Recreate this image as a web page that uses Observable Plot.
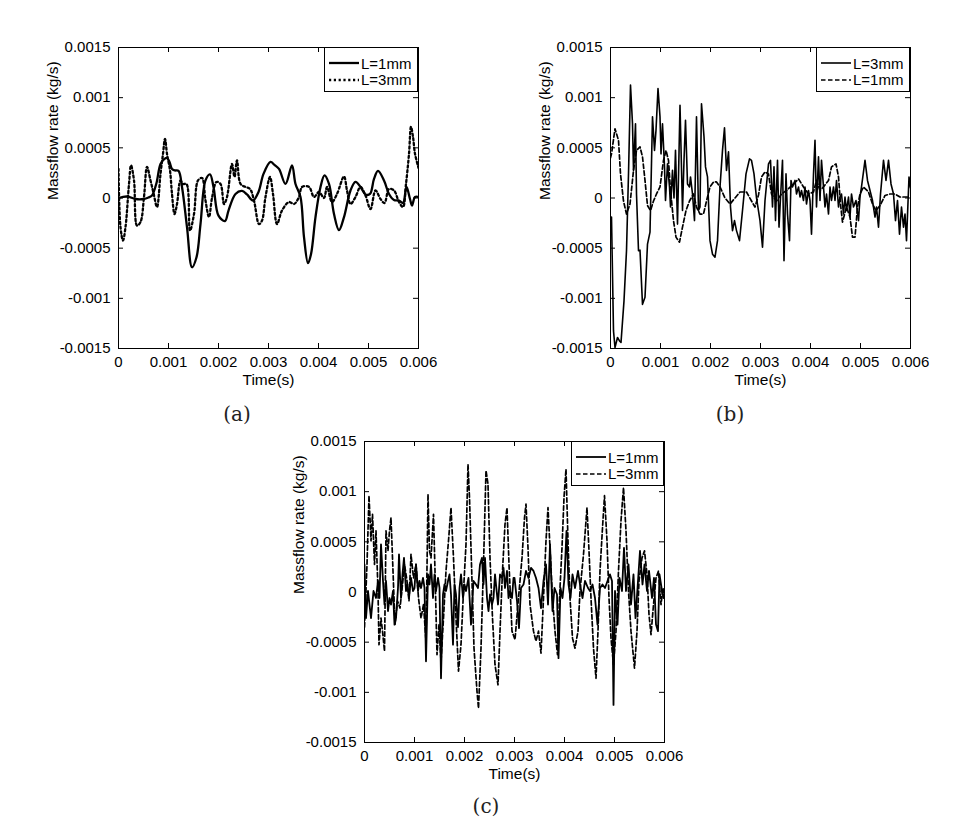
<!DOCTYPE html>
<html><head><meta charset="utf-8">
<script src="https://cdn.jsdelivr.net/npm/d3@7"></script>
<script src="https://cdn.jsdelivr.net/npm/@observablehq/plot@0.6"></script>
<style>
body{margin:0;background:#fff;}
#wrap{position:relative;width:959px;height:818px;overflow:hidden;font-family:"Liberation Sans",Arial,sans-serif;background:#fff;}
.panel{position:absolute;width:440px;height:400px;}
.legend{position:absolute;background:#fff;border:1px solid #000;box-sizing:border-box;font-size:15px;color:#000;height:45px;}
.row{position:absolute;left:0;height:16px;display:flex;align-items:center;white-space:nowrap;}
.cap{position:absolute;font-family:"DejaVu Serif",serif;font-size:20px;color:#222;transform:translate(-50%,-50%);}
</style></head>
<body><div id="wrap"></div>
<script>
// ---- axis ticks and labels ----
const xTicks = [0, 0.001, 0.002, 0.003, 0.004, 0.005, 0.006];
const xTickLabels = ["0", "0.001", "0.002", "0.003", "0.004", "0.005", "0.006"];
const yTicks = [-0.0015, -0.001, -0.0005, 0, 0.0005, 0.001, 0.0015];
const yTickLabels = ["-0.0015", "-0.001", "-0.0005", "0", "0.0005", "0.001", "0.0015"];
const xLabel = "Time(s)";
const yLabel = "Massflow rate (kg/s)";
const captions = ["(a)", "(b)", "(c)"];

// ---- data: [time (ms), massflow (1e-4 kg/s)] ----
const a_L1mm = [[0,0],[0.17,0.15],[0.34,-0.1],[0.5,-0.1],[0.6,0.05],[0.67,0.25],[0.76,1.5],[0.84,3.4],[0.92,3.9],[0.97,4.0],[1.02,3.6],[1.07,2.9],[1.13,2.75],[1.2,2.7],[1.27,1.1],[1.37,-2.9],[1.47,-6.9],[1.56,-5.9],[1.64,-2.6],[1.74,1.75],[1.83,2.35],[1.9,1.1],[2.0,-1.75],[2.13,-2.3],[2.2,-1.25],[2.34,0.4],[2.47,0.7],[2.57,0.35],[2.69,-0.25],[2.8,0.6],[2.9,2.4],[3.04,3.6],[3.12,3.3],[3.21,2.9],[3.34,1.4],[3.47,3.25],[3.54,1.4],[3.64,0.1],[3.71,-3.9],[3.79,-6.5],[3.85,-5.6],[3.94,-1.9],[4.04,1.1],[4.12,2.25],[4.21,1.4],[4.31,-1.6],[4.41,-3.2],[4.51,-1.9],[4.64,0.75],[4.74,1.6],[4.84,1.1],[4.94,0.35],[5.03,0.4],[5.11,1.9],[5.19,2.7],[5.31,1.75],[5.41,0.4],[5.51,-0.2],[5.61,-0.25],[5.69,-0.5],[5.76,1.1],[5.83,-0.1],[5.87,-0.75],[5.93,0.1],[6.0,0.1]];
const a_L3mm = [[0,2.9],[0.04,-2.9],[0.09,-4.25],[0.14,-2.9],[0.21,1.4],[0.25,3.25],[0.31,1.75],[0.37,-2.75],[0.44,-2.4],[0.51,0.1],[0.57,3.1],[0.64,1.75],[0.7,0.5],[0.77,-0.9],[0.84,2.4],[0.89,4.4],[0.93,5.9],[0.97,4.4],[1.03,2.75],[1.07,0.4],[1.12,-1.6],[1.17,-0.6],[1.24,1.75],[1.29,1.4],[1.36,1.4],[1.43,-3.25],[1.51,-1.6],[1.59,1.75],[1.67,2.0],[1.74,-0.25],[1.81,-1.9],[1.87,0],[1.96,1.6],[2.04,1.4],[2.11,-0.6],[2.17,0.1],[2.27,3.4],[2.32,2.1],[2.37,3.75],[2.44,1.4],[2.54,1.1],[2.63,0.9],[2.71,-0.25],[2.81,-2.6],[2.87,-2.25],[2.94,0.1],[3.03,2.1],[3.09,0.4],[3.17,-2.6],[3.27,-1.25],[3.41,-0.4],[3.51,-0.6],[3.61,0.1],[3.67,1.1],[3.81,1.1],[3.91,0.1],[4.01,0.6],[4.11,0],[4.17,1.1],[4.27,-0.4],[4.37,0.4],[4.51,2.15],[4.57,0.75],[4.64,-0.6],[4.74,0.1],[4.84,1.1],[4.94,0.25],[5.04,-1.1],[5.14,0.75],[5.24,-0.1],[5.32,-0.5],[5.41,0.9],[5.51,0.75],[5.61,-0.4],[5.69,-0.9],[5.75,1.4],[5.81,4.4],[5.85,7.1],[5.89,6.1],[5.93,4.4],[6.0,3.0]];
const b_L3mm = [[0.02,-1.9],[0.06,-13.25],[0.09,-14.9],[0.14,-13.9],[0.18,-14.25],[0.21,-14.4],[0.27,-10.25],[0.32,-5.25],[0.36,2.4],[0.40,11.25],[0.44,7.4],[0.46,2.75],[0.48,5.1],[0.50,7.4],[0.52,0.4],[0.56,-5.25],[0.59,-5.2],[0.64,-10.6],[0.69,-9.9],[0.74,-4.6],[0.79,-3.4],[0.84,8.1],[0.88,4.75],[0.91,6.75],[0.95,10.9],[0.99,8.1],[1.01,4.4],[1.04,7.4],[1.08,3.1],[1.10,-0.25],[1.14,3.4],[1.18,1.1],[1.20,-0.9],[1.24,2.75],[1.27,0],[1.30,4.75],[1.34,-2.6],[1.39,9.25],[1.44,-1.25],[1.47,3.75],[1.50,7.75],[1.54,1.4],[1.58,1.1],[1.60,2.1],[1.64,0.4],[1.68,-2.25],[1.72,8.1],[1.76,-1.25],[1.79,-0.9],[1.82,9.4],[1.87,6.1],[1.90,3.1],[1.94,2.1],[1.99,-4.25],[2.04,-5.6],[2.09,-5.9],[2.14,-4.25],[2.19,1.1],[2.24,4.75],[2.28,7.0],[2.32,2.75],[2.36,4.6],[2.40,-0.9],[2.44,-3.25],[2.48,-2.25],[2.52,-3.25],[2.58,-4.25],[2.64,-1.25],[2.71,2.4],[2.78,3.9],[2.82,3.75],[2.87,2.4],[2.92,0],[2.99,-2.25],[3.04,-4.9],[3.09,-0.25],[3.16,3.4],[3.20,3.75],[3.24,-0.9],[3.27,3.1],[3.30,-2.25],[3.34,3.75],[3.37,-2.9],[3.40,0],[3.44,3.75],[3.47,-6.25],[3.51,2.4],[3.54,-1.6],[3.58,-4.25],[3.61,1.75],[3.64,1.1],[3.69,1.75],[3.72,0.4],[3.76,1.1],[3.79,0.1],[3.82,0.75],[3.86,-0.25],[3.89,1.1],[3.92,-0.6],[3.96,0.75],[3.99,-0.25],[4.02,-3.6],[4.06,2.4],[4.09,5.75],[4.12,-0.9],[4.16,4.1],[4.19,-0.25],[4.22,3.75],[4.26,1.1],[4.29,-0.9],[4.32,0.4],[4.36,-1.6],[4.39,1.1],[4.42,-0.25],[4.46,1.1],[4.49,-0.25],[4.52,1.75],[4.56,-0.9],[4.59,0.1],[4.62,0.4],[4.66,-1.6],[4.69,0.1],[4.72,-1.25],[4.76,0.1],[4.79,-1.9],[4.82,0.4],[4.86,-0.9],[4.91,-0.25],[4.96,-2.25],[4.99,0.1],[5.02,1.1],[5.09,3.75],[5.14,1.75],[5.19,0.75],[5.24,-0.25],[5.29,-1.9],[5.32,-0.9],[5.36,-2.9],[5.40,0.4],[5.46,3.75],[5.51,1.75],[5.56,3.75],[5.61,1.4],[5.66,0.4],[5.70,-2.25],[5.74,-0.25],[5.78,-3.6],[5.82,-0.9],[5.86,-2.9],[5.89,-1.6],[5.92,-4.25],[5.97,2.1],[6.0,1.0]];
const b_L1mm = [[0.0,4.0],[0.02,4.4],[0.09,6.9],[0.16,5.75],[0.2,2.4],[0.26,-0.3],[0.32,-1.6],[0.39,-0.6],[0.46,2.75],[0.52,4.75],[0.59,5.1],[0.64,4.1],[0.69,1.75],[0.74,-0.75],[0.8,-1.25],[0.86,-0.3],[0.92,0.4],[0.99,1.1],[1.06,3.75],[1.11,4.75],[1.16,3.75],[1.2,0.75],[1.26,-2.25],[1.31,-3.9],[1.38,-4.4],[1.44,-2.9],[1.51,-1.25],[1.58,-0.3],[1.66,0.4],[1.72,-0.9],[1.79,-1.6],[1.86,-1.6],[1.92,-0.3],[1.99,1.1],[2.06,1.6],[2.12,1.6],[2.19,1.1],[2.29,0],[2.39,-0.6],[2.49,0],[2.59,0.6],[2.72,0.6],[2.82,-0.3],[2.89,-0.9],[2.96,0.3],[3.02,2.1],[3.09,2.6],[3.16,2.4],[3.22,0.4],[3.32,-0.3],[3.42,0.4],[3.52,0.75],[3.66,1.4],[3.76,1.9],[3.86,1.1],[3.96,0.4],[4.06,0.6],[4.12,1.75],[4.19,0.75],[4.26,1.1],[4.36,1.75],[4.42,3.1],[4.51,3.4],[4.56,2.1],[4.6,-0.6],[4.64,-2.4],[4.72,-0.9],[4.79,-1.9],[4.84,-3.9],[4.89,-3.9],[4.94,-0.9],[4.99,0.4],[5.06,1.1],[5.16,0.6],[5.24,-0.6],[5.31,-1.25],[5.39,-0.75],[5.49,0.25],[5.59,0.4],[5.69,0.4],[5.79,0.1],[5.89,0.1],[5.98,0.1]];
const c_L1mm = [[0,2.75],[0.03,-2.6],[0.07,0.1],[0.1,-1.25],[0.13,-2.6],[0.18,0.1],[0.23,-0.6],[0.27,1.1],[0.3,-0.6],[0.33,4.75],[0.37,1.1],[0.4,-1.25],[0.43,1.1],[0.47,-1.9],[0.5,-0.6],[0.53,-1.25],[0.57,0.1],[0.6,-3.25],[0.63,-2.6],[0.67,0.4],[0.69,3.75],[0.73,-0.6],[0.76,1.75],[0.79,3.4],[0.83,0.1],[0.86,0.75],[0.89,-0.6],[0.93,1.4],[0.97,0.1],[1.0,0.4],[1.03,2.75],[1.07,0.1],[1.1,1.1],[1.13,0.4],[1.17,1.4],[1.2,0.4],[1.23,-6.9],[1.27,1.75],[1.3,0.75],[1.33,2.75],[1.37,-0.6],[1.4,1.75],[1.43,0.1],[1.47,1.4],[1.5,0.4],[1.53,-8.6],[1.57,-0.25],[1.6,0.75],[1.63,0.1],[1.67,1.1],[1.7,1.75],[1.73,-0.25],[1.77,-5.25],[1.8,0.75],[1.83,-0.25],[1.87,-3.5],[1.9,0.4],[1.93,1.75],[1.97,-0.6],[2.0,0.75],[2.03,0.1],[2.08,1.4],[2.13,-3.25],[2.18,1.1],[2.23,0.75],[2.27,0.4],[2.31,2.75],[2.35,3.4],[2.38,0.75],[2.41,3.4],[2.45,-0.6],[2.48,-1.9],[2.51,-0.25],[2.55,-1.25],[2.58,-0.6],[2.61,1.75],[2.67,-1.25],[2.71,1.75],[2.75,1.4],[2.78,2.4],[2.81,0.4],[2.85,2.1],[2.88,-0.6],[2.91,0.1],[2.95,-0.6],[2.98,1.4],[3.0,1.4],[3.05,-0.9],[3.09,-3.6],[3.13,0.4],[3.18,0.75],[3.23,2.1],[3.28,1.4],[3.33,2.4],[3.38,2.1],[3.43,1.4],[3.48,0.4],[3.53,-1.6],[3.58,1.1],[3.63,2.75],[3.67,-1.25],[3.71,4.75],[3.76,-1.9],[3.8,0.4],[3.85,-0.25],[3.88,-6.6],[3.92,0.4],[3.96,-0.6],[4.0,1.4],[4.04,6.1],[4.08,0.75],[4.12,-0.6],[4.16,1.75],[4.21,0.4],[4.27,2.1],[4.31,0.75],[4.36,-0.6],[4.41,1.1],[4.47,0.4],[4.51,0.1],[4.56,0.75],[4.61,-0.6],[4.66,-3.25],[4.71,0.4],[4.76,0.75],[4.81,0.4],[4.86,1.1],[4.91,1.75],[4.95,1.1],[4.98,-11.25],[5.01,0.1],[5.06,-3.25],[5.1,1.4],[5.15,0.1],[5.19,4.4],[5.23,0.1],[5.28,2.75],[5.33,-1.25],[5.38,1.75],[5.42,-2.6],[5.47,1.1],[5.51,4.1],[5.56,0.75],[5.6,2.75],[5.65,0.1],[5.69,2.1],[5.75,-0.6],[5.79,1.4],[5.83,-3.25],[5.87,-3.9],[5.9,1.75],[5.95,0.1],[5.98,-0.6],[6.0,-0.2]];
const c_L3mm = [[0,-3.5],[0.05,2.75],[0.09,9.6],[0.13,5.1],[0.16,7.75],[0.2,2.75],[0.23,6.1],[0.27,0.1],[0.29,-5.25],[0.33,-2.6],[0.36,-3.9],[0.4,-5.9],[0.43,6.1],[0.47,4.1],[0.5,6.1],[0.53,7.4],[0.57,2.1],[0.61,-3.25],[0.66,-0.9],[0.71,-1.6],[0.76,0.75],[0.8,2.75],[0.85,1.1],[0.89,-0.9],[0.93,3.75],[0.98,1.4],[1.03,2.75],[1.08,-0.6],[1.13,-2.6],[1.18,-1.25],[1.23,-4.9],[1.27,9.75],[1.3,4.1],[1.33,3.4],[1.38,7.75],[1.41,2.1],[1.45,-6.25],[1.49,-3.25],[1.53,-6.9],[1.58,-2.6],[1.63,2.1],[1.68,5.1],[1.73,8.4],[1.78,3.4],[1.83,-2.6],[1.88,-7.9],[1.93,-5.25],[1.98,0.1],[2.03,4.75],[2.07,12.75],[2.1,9.4],[2.15,1.1],[2.19,-5.6],[2.25,-9.9],[2.28,-11.6],[2.33,-5.6],[2.38,2.75],[2.43,12.1],[2.47,10.75],[2.51,3.4],[2.56,-2.6],[2.61,-7.25],[2.67,-9.25],[2.71,-3.9],[2.76,2.1],[2.81,6.75],[2.85,8.4],[2.89,2.75],[2.95,-3.9],[3.01,-4.75],[3.08,-0.6],[3.15,3.4],[3.2,7.4],[3.23,8.75],[3.27,4.4],[3.31,-1.25],[3.38,-3.9],[3.43,-4.9],[3.48,-3.9],[3.53,-6.1],[3.58,-0.6],[3.63,5.1],[3.67,8.4],[3.71,4.4],[3.76,-0.6],[3.81,-3.9],[3.86,-6.25],[3.9,-0.6],[3.95,4.4],[3.99,9.4],[4.03,12.25],[4.07,5.1],[4.11,-0.6],[4.16,-4.6],[4.21,-5.6],[4.27,-3.9],[4.31,0.1],[4.38,3.75],[4.45,8.4],[4.49,4.1],[4.53,-0.6],[4.58,-5.6],[4.63,-8.6],[4.67,-3.9],[4.71,2.1],[4.76,6.4],[4.8,9.6],[4.85,5.1],[4.89,-0.6],[4.93,-4.6],[4.98,-7.25],[5.03,-3.9],[5.08,2.1],[5.13,7.1],[5.18,10.4],[5.23,6.1],[5.28,0.1],[5.33,-3.9],[5.4,-7.6],[5.45,-3.9],[5.49,1.1],[5.55,3.4],[5.6,4.1],[5.65,1.75],[5.69,-2.25],[5.73,-4.25],[5.78,-1.25],[5.83,1.4],[5.88,2.1],[5.93,-1.25],[5.97,0.4],[6.0,-0.2]];

// ---- styles ----
const styles = {
  aSolid: {width: 2.3, dash: null, curve: "catmull-rom"},
  aDot:   {width: 2.3, dash: "2.2,2.6", curve: "catmull-rom"},
  bSolid: {width: 1.6, dash: null, curve: "linear"},
  bDash:  {width: 1.7, dash: "4.5,2.5", curve: "linear"},
  cSolid: {width: 1.8, dash: null, curve: "linear"},
  cDash:  {width: 1.7, dash: "4.5,2.5", curve: "linear"}
};

const panels = [
  {left: 0, top: 0, caption: captions[0], capX: 237, capY: 414,
   series: [{name: "L=1mm", pts: a_L1mm, st: styles.aSolid}, {name: "L=3mm", pts: a_L3mm, st: styles.aDot}],
   legend: {left: 324, top: 47, width: 94}},
  {left: 492, top: 0, caption: captions[1], capX: 730, capY: 414,
   series: [{name: "L=3mm", pts: b_L3mm, st: styles.bSolid}, {name: "L=1mm", pts: b_L1mm, st: styles.bDash}],
   legend: {left: 816, top: 47, width: 94}},
  {left: 246, top: 394, caption: captions[2], capX: 486, capY: 806,
   series: [{name: "L=1mm", pts: c_L1mm, st: styles.cSolid}, {name: "L=3mm", pts: c_L3mm, st: styles.cDash}],
   legend: {left: 571, top: 441, width: 93}}
];

const wrap = document.getElementById("wrap");
const xLab = new Map(xTicks.map((d, i) => [d, xTickLabels[i]]));
const yLab = new Map(yTicks.map((d, i) => [d, yTickLabels[i]]));

const W = 440, H = 400, mL = 118, mT = 47, mR = 22, mB = 52;
const fw = W - mL - mR, fh = H - mT - mB;

for (const p of panels) {
  const marks = [];
  for (const s of [...p.series].reverse()) {
    marks.push(Plot.line(s.pts, {
      x: d => d[0] * 1e-3, y: d => d[1] * 1e-4,
      stroke: "#000", strokeWidth: s.st.width, strokeDasharray: s.st.dash,
      curve: s.st.curve, clip: true, strokeLinejoin: "round"
    }));
  }
  marks.push(Plot.tickX(xTicks, {x: d => d, insetBottom: fh - 5, stroke: "#000"}));
  marks.push(Plot.tickX(xTicks, {x: d => d, insetTop: fh - 5, stroke: "#000"}));
  marks.push(Plot.tickY(yTicks, {y: d => d, insetRight: fw - 5, stroke: "#000"}));
  marks.push(Plot.tickY(yTicks, {y: d => d, insetLeft: fw - 5, stroke: "#000"}));
  marks.push(Plot.frame({stroke: "#000", strokeWidth: 1}));
  marks.push(Plot.axisX({ticks: xTicks, tickSize: 0, tickPadding: 8, tickFormat: d => xLab.get(d), label: null, fontSize: 15}));
  marks.push(Plot.axisY({ticks: yTicks, tickSize: 0, tickPadding: 8, tickFormat: d => yLab.get(d), label: null, fontSize: 15}));
  marks.push(Plot.text([xLabel], {text: d => d, frameAnchor: "bottom", dy: 36, fontSize: 15.5, fill: "#000"}));
  marks.push(Plot.text([yLabel], {text: d => d, frameAnchor: "left", rotate: -90, dx: -65.5, dy: 2, fontSize: 15.5, fill: "#000"}));

  const svg = Plot.plot({
    width: W, height: H,
    marginLeft: mL, marginTop: mT, marginRight: mR, marginBottom: mB,
    x: {domain: [0, 0.006]},
    y: {domain: [-0.0015, 0.0015]},
    style: {fontFamily: '"Liberation Sans", Arial, sans-serif', fontSize: "15px", color: "#000", background: "transparent", maxWidth: "none", overflow: "visible"},
    marks
  });
  const div = document.createElement("div");
  div.className = "panel";
  div.style.left = p.left + "px";
  div.style.top = p.top + "px";
  div.appendChild(svg);
  wrap.appendChild(div);

  const lg = document.createElement("div");
  lg.className = "legend";
  lg.style.left = p.legend.left + "px";
  lg.style.top = p.legend.top + "px";
  lg.style.width = p.legend.width + "px";
  p.series.forEach((s, i) => {
    const row = document.createElement("div");
    row.className = "row";
    row.style.top = (8 + i * 16.5 - 1) + "px";
    const ns = "http://www.w3.org/2000/svg";
    const sv = document.createElementNS(ns, "svg");
    sv.setAttribute("width", 36); sv.setAttribute("height", 16);
    const ln = document.createElementNS(ns, "line");
    ln.setAttribute("x1", 4); ln.setAttribute("x2", 34);
    ln.setAttribute("y1", 8); ln.setAttribute("y2", 8);
    ln.setAttribute("stroke", "#000");
    ln.setAttribute("stroke-width", s.st.width);
    if (s.st.dash) ln.setAttribute("stroke-dasharray", s.st.dash);
    sv.appendChild(ln);
    row.appendChild(sv);
    const tx = document.createElement("span");
    tx.textContent = s.name;
    row.appendChild(tx);
    lg.appendChild(row);
  });
  wrap.appendChild(lg);

  const cap = document.createElement("div");
  cap.className = "cap";
  cap.style.left = p.capX + "px";
  cap.style.top = p.capY + "px";
  cap.textContent = p.caption;
  wrap.appendChild(cap);
}
</script></body></html>
